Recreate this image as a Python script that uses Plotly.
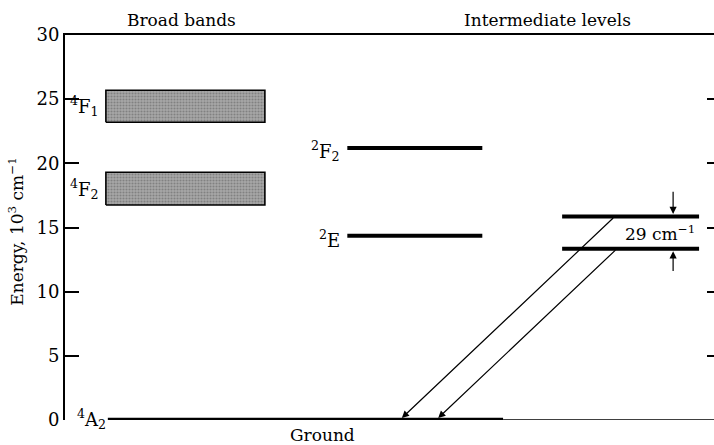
import plotly.graph_objects as go

# ---- data (energies in 10^3 cm^-1) ----
band_names = ["<sup>4</sup>F<sub>1</sub>", "<sup>4</sup>F<sub>2</sub>"]
band_low = [23.2, 16.75]
band_high = [25.7, 19.3]

level_names = ["<sup>2</sup>F<sub>2</sub>", "<sup>2</sup>E"]
level_energy = [21.2, 14.35]

split_upper = 15.85
split_lower = 13.35
split_label = "29 cm<sup>−1</sup>"
ground_energy = 0.0
ground_name = "<sup>4</sup>A<sub>2</sub>"

y_ticks = [0, 5, 10, 15, 20, 25, 30]
right_ticks = [5, 10, 15, 20, 25]

# ---- layout constants (x in arbitrary diagram units 0..10) ----
BAND_X = (0.63, 3.08)
LEVEL_X = (4.35, 6.43)
SPLIT_X = (7.66, 9.77)
GROUND_X = (0.66, 6.75)
FONT = "DejaVu Serif"

fig = go.Figure()

for lo, hi in zip(band_low, band_high):
    fig.add_trace(go.Scatter(
        x=[BAND_X[0], BAND_X[1], BAND_X[1], BAND_X[0], BAND_X[0]],
        y=[lo, lo, hi, hi, lo], mode="lines", fill="toself",
        fillcolor="#9a9a9a",
        fillpattern=dict(shape=".", bgcolor="#a8a8a8", fgcolor="#5a5a5a", size=3, solidity=0.4),
        line=dict(color="black", width=1.6), hoverinfo="skip", showlegend=False))

for e in level_energy:
    fig.add_trace(go.Scatter(x=list(LEVEL_X), y=[e, e], mode="lines",
                             line=dict(color="black", width=4), showlegend=False))

for e in (split_upper, split_lower):
    fig.add_trace(go.Scatter(x=list(SPLIT_X), y=[e, e], mode="lines",
                             line=dict(color="black", width=4), showlegend=False))

# ground level
fig.add_trace(go.Scatter(x=list(GROUND_X), y=[ground_energy, ground_energy], mode="lines",
                         line=dict(color="black", width=4.5), showlegend=False))
fig.add_trace(go.Scatter(x=[GROUND_X[1], 10], y=[ground_energy, ground_energy], mode="lines",
                         line=dict(color="black", width=1.3), showlegend=False))

ann = []
txt = dict(font=dict(family=FONT, size=17, color="black"), showarrow=False)
big = dict(font=dict(family=FONT, size=18, color="black"), showarrow=False)

# band / level labels
for name, lo, hi in zip(band_names, band_low, band_high):
    ann.append(dict(x=0.56, y=(lo + hi) / 2, xref="x", yref="y", text=name,
                    xanchor="right", yanchor="middle", **big))
for name, e in zip(level_names, level_energy):
    ann.append(dict(x=4.27, y=e - 0.25, xref="x", yref="y", text=name,
                    xanchor="right", yanchor="middle", **big))
ann.append(dict(x=0.67, y=ground_energy + 0.1, xref="x", yref="y", text=ground_name,
                xanchor="right", yanchor="middle", **big))
ann.append(dict(x=9.17, y=(split_upper + split_lower) / 2, xref="x", yref="y", text=split_label,
                xanchor="center", yanchor="middle", **txt))

# titles
ann.append(dict(x=1.80, y=1.04, xref="x", yref="paper", text="Broad bands",
                xanchor="center", yanchor="middle", **txt))
ann.append(dict(x=7.44, y=1.04, xref="x", yref="paper", text="Intermediate levels",
                xanchor="center", yanchor="middle", **txt))
ann.append(dict(x=3.97, y=-0.038, xref="x", yref="paper", text="Ground",
                xanchor="center", yanchor="middle", **txt))
ann.append(dict(x=-0.075, y=0.49, xref="paper", yref="paper",
                text="Energy, 10<sup>3</sup> cm<sup>−1</sup>", textangle=-90,
                xanchor="center", yanchor="middle", **txt))

# emission arrows
arrow = dict(xref="x", yref="y", axref="x", ayref="y", showarrow=True,
             arrowhead=2, arrowsize=1.2, arrowwidth=1.2, arrowcolor="black", text="")
ann.append(dict(x=5.19, y=ground_energy + 0.15, ax=8.47, ay=split_upper, **arrow))
ann.append(dict(x=5.75, y=ground_energy + 0.15, ax=8.505, ay=split_lower, **arrow))
# splitting indicator arrows
ann.append(dict(x=9.37, y=split_upper + 0.2, ax=9.37, ay=17.9, **arrow))
ann.append(dict(x=9.37, y=split_lower - 0.2, ax=9.37, ay=11.5, **arrow))

fig.update_layout(
    width=714, height=445,
    margin=dict(l=65, r=0, t=35, b=25),
    paper_bgcolor="white", plot_bgcolor="white",
    showlegend=False,
    annotations=ann,
    xaxis=dict(range=[0, 10], side="top", showline=True, linecolor="black", linewidth=1.5,
               showticklabels=False, ticks="", showgrid=False, zeroline=False, fixedrange=True),
    yaxis=dict(range=[0, 30], tickvals=y_ticks, ticks="inside", ticklen=14, tickwidth=2,
               tickcolor="black", showline=True, linecolor="black", linewidth=1.8,
               showgrid=False, zeroline=False,
               tickfont=dict(family=FONT, size=18, color="black")),
    yaxis2=dict(range=[0, 30], overlaying="y", side="right", tickvals=right_ticks,
                ticks="inside", ticklen=7, tickwidth=1.5, tickcolor="black",
                showticklabels=False, showline=False, showgrid=False, zeroline=False),
)
# dummy trace to activate yaxis2
fig.add_trace(go.Scatter(x=[None], y=[None], yaxis="y2", showlegend=False))

fig.write_html("out.html", config={"displayModeBar": False},
               post_script="document.body.style.margin='0';document.body.style.overflow='hidden';")
